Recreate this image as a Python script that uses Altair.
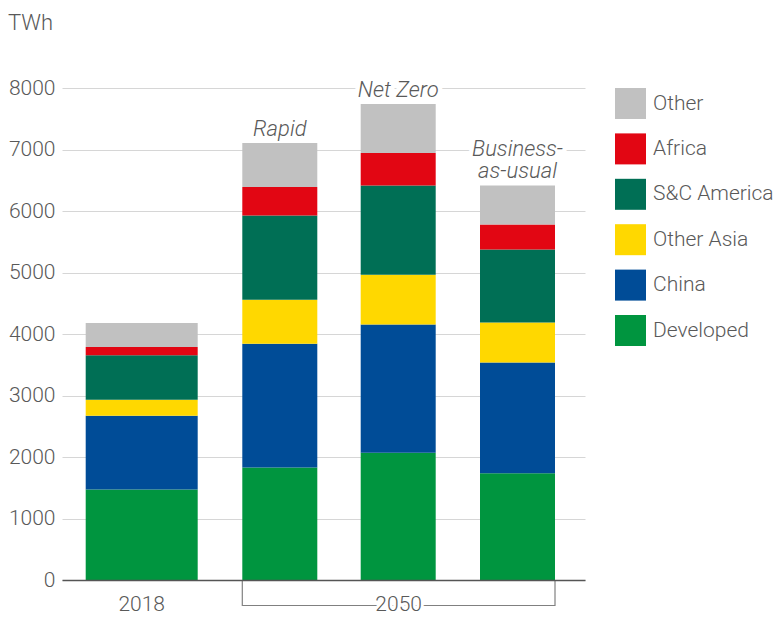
import altair as alt
import pandas as pd

# ---- data ----
scenarios = ["2018", "Rapid", "Net Zero", "Business-as-usual"]
label_upper = ["", "", "", "Business-"]
label_lower = ["", "Rapid", "Net Zero", "as-usual"]
periods = ["2018", "2050", "2050", "2050"]
regions = ["Developed", "China", "Other Asia", "S&C America", "Africa", "Other"]  # bottom -> top
developed = [1470, 1830, 2070, 1735]
china = [1200, 2010, 2085, 1800]
other_asia = [260, 715, 810, 650]
sc_america = [725, 1370, 1450, 1190]
africa = [135, 465, 530, 405]
other = [390, 715, 795, 635]
series = [developed, china, other_asia, sc_america, africa, other]
y_ticks = [0, 1000, 2000, 3000, 4000, 5000, 6000, 7000, 8000]
unit_label = "TWh"

legend_order = ["Other", "Africa", "S&C America", "Other Asia", "China", "Developed"]
legend_colors = ["#c1c1c1", "#e20613", "#006f55", "#ffd800", "#004c97", "#00953f"]

# ---- layout ----
W, H = 523, 492
bar_left = [23.7, 180.3, 298.7, 418.0]
bar_width = [112, 75, 75, 75]
TXT = "#595959"
FW = 300

rows = []
for i, s in enumerate(scenarios):
    base = 0
    for r, vals in zip(regions, series):
        rows.append(dict(scenario=s, region=r, x0=bar_left[i], x1=bar_left[i] + bar_width[i],
                         y0=base, y1=base + vals[i]))
        base += vals[i]
df = pd.DataFrame(rows)

tot = df.groupby("scenario", sort=False).agg(total=("y1", "max"), x0=("x0", "first"), x1=("x1", "first")).reset_index()
tot["xc"] = (tot["x0"] + tot["x1"]) / 2
tot["upper"] = label_upper
tot["lower"] = label_lower
tot["period"] = periods

per = tot.groupby("period", sort=False).agg(x0=("x0", "min"), x1=("x1", "max")).reset_index()
per["xc"] = (per["x0"] + per["x1"]) / 2
per["y"] = 0
bracket = per[per["period"] == "2050"].copy()
bracket_v = pd.DataFrame({"x": [bracket["x0"].iloc[0], bracket["x1"].iloc[0]]})

xs = alt.Scale(domain=[0, W], nice=False, zero=False)
ys = alt.Scale(domain=[0, 8000], nice=False)

bars = alt.Chart(df).mark_bar(strokeWidth=0).encode(
    x=alt.X("x0:Q", scale=xs, axis=alt.Axis(labels=False, ticks=False, grid=False, title=None,
                                            domainColor="#555555", domainWidth=1.5, zindex=1)),
    x2="x1:Q",
    y=alt.Y("y0:Q", scale=ys, axis=alt.Axis(values=y_ticks, format="d", labelFontSize=21,
                                            labelColor=TXT, labelFontWeight=FW,
                                            labelPadding=7, ticks=False, domain=False,
                                            gridColor="#d6d6d6", gridWidth=1, title=None)),
    y2="y1:Q",
    color=alt.Color("region:N", scale=alt.Scale(domain=legend_order, range=legend_colors),
                    legend=alt.Legend(orient="none", legendX=553, legendY=0, title=None,
                                      symbolType="square", symbolSize=961, symbolStrokeWidth=0,
                                      symbolOpacity=1, labelFontSize=21, labelColor=TXT,
                                      labelFontWeight=FW, labelLimit=200,
                                      labelOffset=7, rowPadding=14.4, padding=0)),
)

lab_base = alt.Chart(tot).encode(x=alt.X("xc:Q", scale=xs), y=alt.Y("total:Q", scale=ys))
common = dict(fontSize=22, fontStyle="italic", fontWeight=FW, baseline="alphabetic")
halo_lo = lab_base.mark_text(dy=-7, stroke="white", strokeWidth=9, strokeJoin="round",
                             fill="white", **common).encode(text="lower:N")
halo_up = lab_base.mark_text(dy=-29, stroke="white", strokeWidth=9, strokeJoin="round",
                             fill="white", **common).encode(text="upper:N")
text_lo = lab_base.mark_text(dy=-7, color=TXT, **common).encode(text="lower:N")
text_up = lab_base.mark_text(dy=-29, color=TXT, **common).encode(text="upper:N")

bracket_h = alt.Chart(bracket).mark_rule(color="#808080", strokeWidth=1.2).encode(
    x=alt.X("x0:Q", scale=xs), x2="x1:Q", y=alt.value(H + 25.5))
bracket_vr = alt.Chart(bracket_v).mark_rule(color="#808080", strokeWidth=1.2).encode(
    x=alt.X("x:Q", scale=xs), y=alt.value(H + 1), y2=alt.value(H + 26))

per_base = alt.Chart(per).encode(x=alt.X("xc:Q", scale=xs), y=alt.Y("y:Q", scale=ys), text="period:N")
per_halo = per_base.mark_text(fontSize=21, fontWeight=FW, baseline="middle", dy=25,
                              stroke="white", strokeWidth=6, fill="white")
per_text = per_base.mark_text(fontSize=21, fontWeight=FW, baseline="middle", dy=25, color=TXT)

unit = alt.Chart(pd.DataFrame({"t": [unit_label]})).mark_text(
    align="left", baseline="top", fontSize=22, fontWeight=FW, color=TXT).encode(
    x=alt.value(-54), y=alt.value(-75.5), text="t:N")

chart = alt.layer(halo_lo, halo_up, bars, bracket_h, bracket_vr, text_lo, text_up,
                  per_halo, per_text, unit).properties(
    width=W, height=H, padding={"top": 3, "left": 0, "right": 0, "bottom": 0}
).configure(font="Roboto").configure_view(stroke=None)

chart.save("out.html", embed_options={"renderer": "svg", "actions": False})
